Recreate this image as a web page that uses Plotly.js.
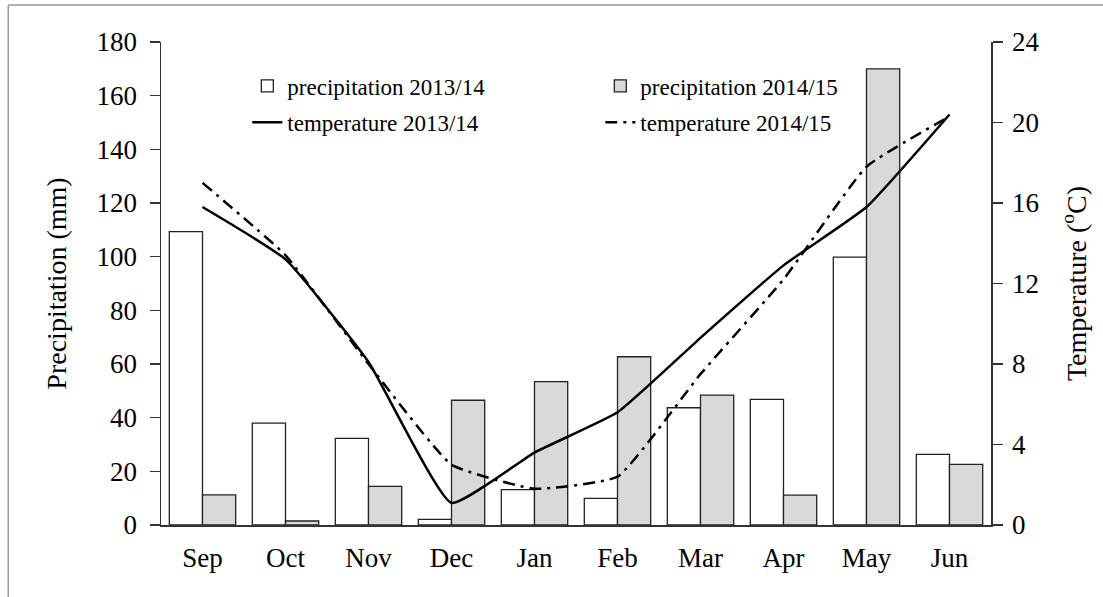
<!DOCTYPE html>
<html>
<head>
<meta charset="utf-8">
<script src="https://cdn.plot.ly/plotly-3.0.1.min.js"></script>
<style>html,body{margin:0;padding:0;background:#fff;}#chart{width:1103px;height:597px;}</style>
</head>
<body>
<div id="chart"></div>
<script>
const months = ['Sep','Oct','Nov','Dec','Jan','Feb','Mar','Apr','May','Jun'];
const precip1314 = [109.3, 38.0, 32.3, 2.1, 13.2, 9.9, 43.7, 46.8, 99.8, 26.3];
const precip1415 = [11.2, 1.5, 14.4, 46.5, 53.4, 62.7, 48.4, 11.1, 170.0, 22.6];
const temp1314 = [15.8, 13.2, 8.1, 1.1, 3.6, 5.6, 9.3, 12.9, 15.8, 20.4];
const temp1415 = [17.0, 13.4, 8.0, 3.0, 1.8, 2.4, 7.5, 12.2, 17.8, 20.3];

const serif = 'Liberation Serif, Times New Roman, serif';

const traces = [
  {type:'bar', name:'precipitation 2013/14', x:months, y:precip1314,
   marker:{color:'#ffffff', line:{color:'#222', width:1.3}}, legend:'legend'},
  {type:'bar', name:'precipitation 2014/15', x:months, y:precip1415,
   marker:{color:'#d9d9d9', line:{color:'#222', width:1.3}}, legend:'legend'},
  {type:'scatter', mode:'lines', name:'temperature 2013/14', x:months, y:temp1314, yaxis:'y2',
   line:{color:'#000', width:2.5, shape:'spline', smoothing:0.4}, legend:'legend2'},
  {type:'scatter', mode:'lines', name:'temperature 2014/15', x:months, y:temp1415, yaxis:'y2',
   line:{color:'#000', width:2.5, dash:'12px,6px,3px,6px', shape:'spline', smoothing:0.4}, legend:'legend2'}
];

const layout = {
  width:1103, height:597,
  margin:{l:161, r:112, t:42, b:72},
  paper_bgcolor:'#fff', plot_bgcolor:'#fff',
  font:{family:serif, color:'#000', size:27},
  barmode:'group', bargap:0.2, bargroupgap:0,
  showlegend:true,
  legend:{orientation:'h', x:0.104, xanchor:'left', y:0.909, yanchor:'middle',
          entrywidth:308, font:{family:serif, size:23}, bgcolor:'rgba(0,0,0,0)', traceorder:'normal'},
  legend2:{orientation:'h', x:0.104, xanchor:'left', y:0.834, yanchor:'middle',
          entrywidth:308, font:{family:serif, size:23}, bgcolor:'rgba(0,0,0,0)', traceorder:'normal'},
  xaxis:{type:'category', range:[-0.5, 9.5], showline:true, linecolor:'#333', linewidth:1.5,
         ticks:'', showgrid:false, zeroline:false, tickfont:{size:27}, ticklabelstandoff:8},
  yaxis:{range:[0,180], dtick:20, showline:true, linecolor:'#333', linewidth:1.5,
         ticks:'outside', ticklen:10, tickcolor:'#333', tickwidth:1.5, showgrid:false, zeroline:false,
         tickfont:{size:27}, ticklabelstandoff:7,
         title:{text:'Precipitation (mm)', font:{size:28}, standoff:22}},
  yaxis2:{range:[0,24], dtick:4, overlaying:'y', side:'right', showline:true, linecolor:'#333', linewidth:1.5,
          ticks:'outside', ticklen:10, tickcolor:'#333', tickwidth:1.5, showgrid:false, zeroline:false,
          tickfont:{size:27}, ticklabelstandoff:4,
          title:{text:'Temperature (<sup>o</sup>C)', font:{size:28}, standoff:28}},
  shapes:[
    {type:'line', xref:'paper', yref:'paper', x0:-0.184, x1:1.2, y0:1.0766, y1:1.0766, line:{color:'#999', width:1.5}},
    {type:'line', xref:'paper', yref:'paper', x0:-0.184, x1:-0.184, y0:1.0766, y1:-0.2, line:{color:'#999', width:1.5}}
  ]
};

Plotly.newPlot('chart', traces, layout, {displayModeBar:false, staticPlot:true});
</script>
</body>
</html>
